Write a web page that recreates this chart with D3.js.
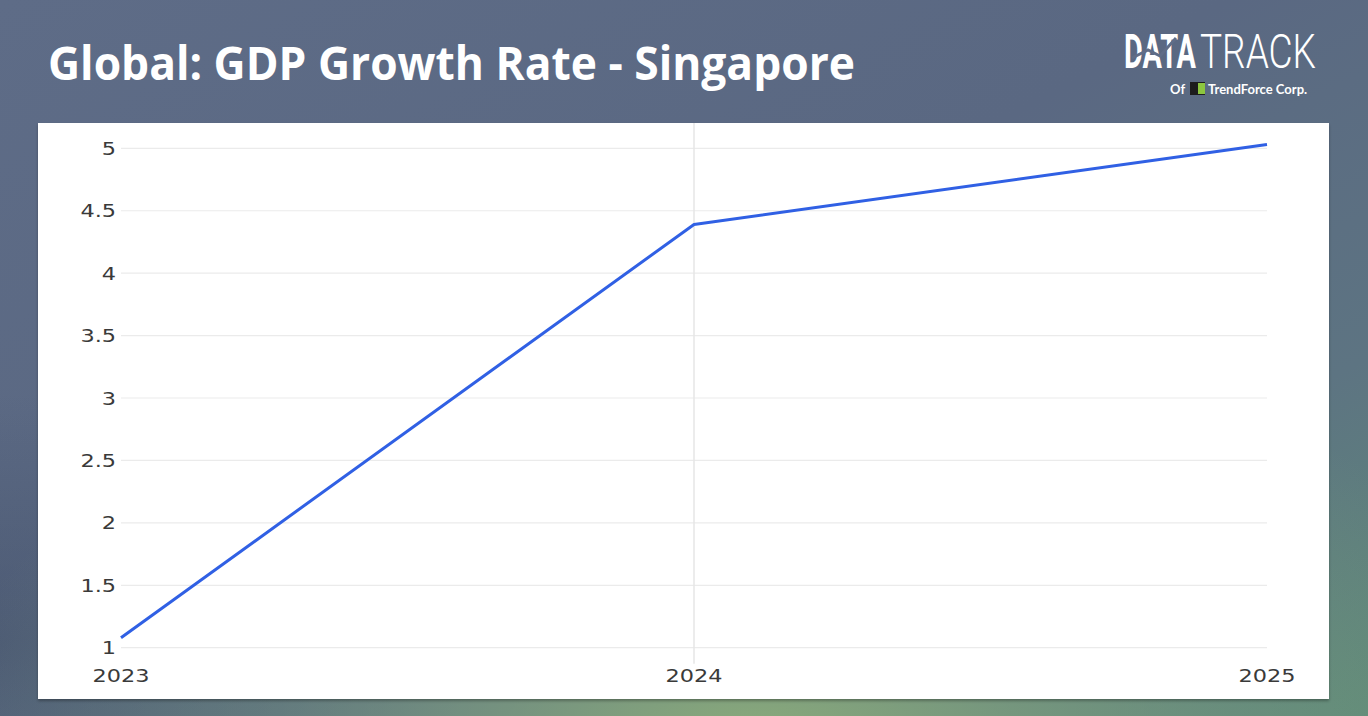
<!DOCTYPE html>
<html>
<head>
<meta charset="utf-8">
<script src="https://cdn.jsdelivr.net/npm/d3@7"></script>
<style>
  html, body { margin: 0; padding: 0; overflow: hidden; }
  svg { display: block; }
</style>
</head>
<body>
<div id="chart"></div>
<script>
const years = ["2023", "2024", "2025"];
const growth = [1.08, 4.39, 5.03];
const yTickStep = 0.5;
const titleText = "Global: GDP Growth Rate - Singapore";

const W = 1368, H = 716;
const panel = { x: 38, y: 123, w: 1291, h: 576 };
const plot = { left: 121, right: 1267, top: 148.3, bottom: 647.7 };

const svg = d3.select("#chart").append("svg")
    .attr("width", W).attr("height", H);
const defs = svg.append("defs");

// background: blue-grey photo tone fading to green at the bottom right
const bg = defs.append("linearGradient").attr("id", "bg")
    .attr("x1", 0).attr("y1", 0).attr("x2", 1).attr("y2", 1);
bg.append("stop").attr("offset", "0%").attr("stop-color", "#5e6c87");
bg.append("stop").attr("offset", "45%").attr("stop-color", "#5a6882");
bg.append("stop").attr("offset", "75%").attr("stop-color", "#5d7482");
bg.append("stop").attr("offset", "100%").attr("stop-color", "#5f8a78");
const green = defs.append("radialGradient").attr("id", "green")
    .attr("cx", 0.55).attr("cy", 1.05).attr("r", 0.6);
green.append("stop").attr("offset", "0%").attr("stop-color", "#8fb07a").attr("stop-opacity", 0.95);
green.append("stop").attr("offset", "60%").attr("stop-color", "#7a9c80").attr("stop-opacity", 0.35);
green.append("stop").attr("offset", "100%").attr("stop-color", "#7a9c80").attr("stop-opacity", 0);
const leftDark = defs.append("radialGradient").attr("id", "leftDark")
    .attr("cx", 0).attr("cy", 0.9).attr("r", 0.35);
leftDark.append("stop").attr("offset", "0%").attr("stop-color", "#3f4d66").attr("stop-opacity", 0.5);
leftDark.append("stop").attr("offset", "100%").attr("stop-color", "#3f4d66").attr("stop-opacity", 0);
const shadow = defs.append("filter").attr("id", "shadow")
    .attr("x", "-2%").attr("y", "-2%").attr("width", "104%").attr("height", "106%");
shadow.append("feDropShadow").attr("dx", 0).attr("dy", 2).attr("stdDeviation", 1.5)
    .attr("flood-color", "#000").attr("flood-opacity", 0.3);

svg.append("rect").attr("width", W).attr("height", H).attr("fill", "url(#bg)");
svg.append("rect").attr("width", W).attr("height", H).attr("fill", "url(#leftDark)");
svg.append("rect").attr("width", W).attr("height", H).attr("fill", "url(#green)");

// title
svg.append("text")
    .attr("x", 48).attr("y", 80)
    .attr("textLength", 807).attr("lengthAdjust", "spacingAndGlyphs")
    .attr("fill", "#fff")
    .style("font-family", "'Open Sans', sans-serif")
    .style("font-weight", 700)
    .style("font-size", "46px")
    .text(titleText);

// logo: condensed wordmark, stretched vertically
const logo = svg.append("g");
logo.append("text").attr("transform", "translate(1124,68) scale(1,1.7)")
    .attr("textLength", 72).attr("lengthAdjust", "spacingAndGlyphs")
    .attr("fill", "#fff").style("font-family", "'Roboto', sans-serif")
    .style("font-weight", 700).style("font-size", "28px").text("DATA");
logo.append("text").attr("transform", "translate(1200,68) scale(1,1.23)")
    .attr("textLength", 116).attr("lengthAdjust", "spacingAndGlyphs")
    .attr("fill", "#fff").style("font-family", "'Roboto', sans-serif")
    .style("font-weight", 300).style("font-size", "39px").text("TRACK");
logo.append("polyline")
    .attr("points", "1132,58 1148,50 1160,56 1176,38")
    .attr("fill", "none").attr("stroke", "#5f6d88").attr("stroke-width", 3);
logo.append("text").attr("x", 1170).attr("y", 94)
    .attr("fill", "#fff").style("font-family", "'Lato', sans-serif")
    .style("font-weight", 700).style("font-size", "13px").text("Of");
logo.append("rect").attr("x", 1190).attr("y", 82).attr("width", 15).attr("height", 13)
    .attr("fill", "#1d1d1d");
logo.append("rect").attr("x", 1198).attr("y", 83).attr("width", 7).attr("height", 11)
    .attr("fill", "#8cc63f");
logo.append("text").attr("x", 1208).attr("y", 94)
    .attr("fill", "#fff").style("font-family", "'Lato', sans-serif")
    .style("font-weight", 700).style("font-size", "13px").text("TrendForce Corp.");

// white panel
svg.append("rect")
    .attr("x", panel.x).attr("y", panel.y).attr("width", panel.w).attr("height", panel.h)
    .attr("fill", "#fff").attr("filter", "url(#shadow)");

const x = d3.scalePoint().domain(years).range([plot.left, plot.right]);
const y = d3.scaleLinear().domain([1, 5]).range([plot.bottom, plot.top]);
const yTicks = d3.range(1, 5 + yTickStep / 2, yTickStep);

const labelFont = "'DejaVu Sans', Verdana, sans-serif";

// horizontal grid
svg.append("g").selectAll("line").data(yTicks).join("line")
    .attr("x1", plot.left).attr("x2", plot.right)
    .attr("y1", d => y(d)).attr("y2", d => y(d))
    .attr("stroke", "#ebebeb").attr("stroke-width", 1.2);

// hover crosshair at 2024
svg.append("line")
    .attr("x1", x("2024")).attr("x2", x("2024"))
    .attr("y1", panel.y).attr("y2", plot.bottom + 16)
    .attr("stroke", "#e6e6e6").attr("stroke-width", 1.5);

// y labels (wide glyphs)
svg.append("g").selectAll("text").data(yTicks).join("text")
    .attr("transform", d => `translate(116,${y(d) + 6.5}) scale(1.28,1)`)
    .attr("text-anchor", "end")
    .attr("fill", "#3a3a3a")
    .style("font-family", labelFont).style("font-size", "17.5px")
    .text(d => d3.format("")(d));

// x labels
svg.append("g").selectAll("text").data(years).join("text")
    .attr("transform", d => `translate(${x(d)},682) scale(1.28,1)`)
    .attr("text-anchor", "middle")
    .attr("fill", "#3a3a3a")
    .style("font-family", labelFont).style("font-size", "17.5px")
    .text(d => d);

// line
const line = d3.line().x((d, i) => x(years[i])).y(d => y(d));
svg.append("path").datum(growth)
    .attr("d", line)
    .attr("fill", "none")
    .attr("stroke", "#3060e4")
    .attr("stroke-width", 3)
    .attr("stroke-linejoin", "round");
</script>
</body>
</html>
